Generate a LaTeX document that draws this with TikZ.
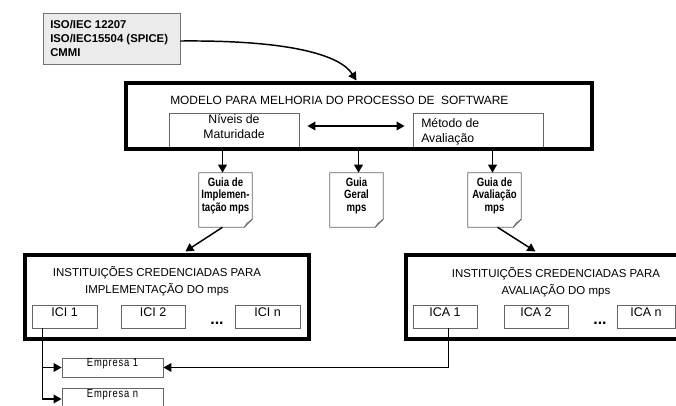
\documentclass[tikz,border=0pt]{standalone}
\usepackage{fontspec}
\setmainfont{Liberation Sans}
\newfontfamily\narrowsf[FakeStretch=0.8]{Liberation Sans}
\usetikzlibrary{arrows.meta,fit,calc}
\tikzset{
  thickbox/.style={draw=black, line width=2.4pt, inner sep=0pt},
  thinbox/.style={draw=black!60, line width=0.6pt, inner sep=0pt, align=center},
  srcbox/.style={draw=black!55, fill=black!8, line width=0.6pt, inner sep=0pt},
  srctxt/.style={inner sep=0pt, align=left, font=\fontsize{8.5}{10.5}\selectfont\bfseries},
  docbox/.style={inner sep=0pt, align=center, font=\narrowsf\fontsize{9}{9.2}\selectfont\bfseries},
  conn/.style={line width=1.1pt, -{Triangle[length=6pt,width=6.5pt]}},
  dconn/.style={line width=1.1pt, {Triangle[length=6pt,width=6.5pt]}-{Triangle[length=6pt,width=6.5pt]}},
  txtA/.style={font=\fontsize{9.2}{11.5}\selectfont},
  mttl/.style={font=\fontsize{8.95}{11}\selectfont, inner sep=0pt, anchor=west},
  ttl/.style={font=\fontsize{8.6}{12.8}\selectfont, align=center, inner sep=0pt},
  inst/.style={thinbox, font=\fontsize{9.4}{11}\selectfont},
  emp/.style={thinbox, font=\narrowsf\fontsize{8.8}{9}\selectfont\addfontfeature{LetterSpace=7}},
  dots/.style={font=\fontsize{12}{12}\selectfont\bfseries, inner sep=0pt, anchor=base}
}
\begin{document}
\begin{tikzpicture}[x=0.75pt,y=-0.75pt]
\useasboundingbox (0,0) rectangle (676,405);

% source box
\node[srcbox, fit={(43,13) (180,64)}] (src) {};
\node[srctxt, anchor=west] (srct) at (50,38.5) {ISO/IEC 12207\\ISO/IEC15504 (SPICE)\\CMMI};

% main model box
\node[thinbox, txtA, fit={(169,113) (299,149)}] (niv) {Níveis de\\Maturidade};
\node[thinbox, fit={(413,113) (543,149)}] (met) {};
\node[txtA, anchor=west, align=left, inner sep=0pt] (mett) at (421,131.5) {Método de\\Avaliação};
\node[thickbox, fit={(126,83) (592,149)}] (main) {};
\node[mttl] (mtitle) at (170,100) {MODELO PARA MELHORIA DO PROCESSO DE\ \ SOFTWARE};

\draw[line width=1.1pt, -{Triangle[length=6pt,width=6.5pt]}]
  ($(src.east)+(0,2.5)$) .. controls (290,40) and (340,55) .. ($(main.north west)+(232,-1)$);

\draw[dconn] ($(niv.east)+(8,-5)$) -- ($(met.west)+(-8,-5)$);

% guide documents
\node[docbox, fit={(199,173) (252,227)}] (gimp) {Guia de\\Implemen-\\tação mps};
\node[docbox, fit={(330,173) (383,227)}] (gger) {Guia\\Geral\\mps};
\node[docbox, fit={(468,173) (521,227)}] (gava) {Guia de\\Avaliação\\mps};
\foreach \d in {gimp,gger,gava}{
  \draw[draw=black!60, line width=0.6pt]
    (\d.north west) -- (\d.north east) -- ([yshift=6pt]\d.south east)
    -- ([xshift=-6pt]\d.south east) -- (\d.south west) -- cycle;
  \draw[draw=black!60, line width=0.5pt]
    ([yshift=6pt]\d.south east) -- ([xshift=-4pt,yshift=3pt]\d.south east)
    -- ([xshift=-6pt]\d.south east);
}

\draw[conn] ($(gimp.north |- main.south)+(-3,0)$) -- ($(gimp.north)+(-3,0)$);
\draw[conn] ($(gger.north |- main.south)+(2,0)$) -- ($(gger.north)+(2,0)$);
\draw[conn] ($(gava.north |- main.south)+(-2,0)$) -- ($(gava.north)+(-2,0)$);

% lower institution boxes
\node[thickbox, fit={(25,255) (309,339)}] (left) {};
\node[thickbox, fit={(406,255) (682,339)}] (right) {};
\node[ttl] (ltitle) at (157,281.5) {INSTITUIÇÕES CREDENCIADAS PARA\\IMPLEMENTAÇÃO DO mps};
\node[ttl] (rtitle) at (556,282.5) {INSTITUIÇÕES CREDENCIADAS PARA\\AVALIAÇÃO DO mps};

\draw[conn] ($(gimp.south)+(-3,0)$) -- ($(left.north west)+(162,-2)$);
\draw[conn] ($(gava.south)+(3,0)$) -- ($(right.north west)+(131,-2)$);

\node[inst, fit={(32,305) (97,328)}] (ici1) {ICI 1};
\node[inst, fit={(121,305) (185,328)}] (ici2) {ICI 2};
\node[dots] (idots) at (217,324.5) {...};
\node[inst, fit={(235,305) (300,328)}] (icin) {ICI n};

\node[inst, fit={(413,305) (477,328)}] (ica1) {ICA 1};
\node[inst, fit={(504,305) (568,328)}] (ica2) {ICA 2};
\node[dots] (adots) at (600,324.5) {...};
\node[inst, fit={(617,305) (675,328)}] (ican) {ICA n};

% companies
\node[emp, fit={(62,358) (163,377)}] (emp1) {Empresa 1};
\node[emp, fit={(62,388) (163,410)}] (empn) {Empresa n};

\coordinate (iciout) at ($(ici1.south west)+(11,0)$);
\coordinate (icaout) at ($(ica1.south west)+(36,0)$);
\draw[conn] (iciout) |- (emp1.west);
\draw[conn] (iciout) |- (empn.west);
\draw[conn] (icaout) |- (emp1.east);
\end{tikzpicture}
\end{document}
